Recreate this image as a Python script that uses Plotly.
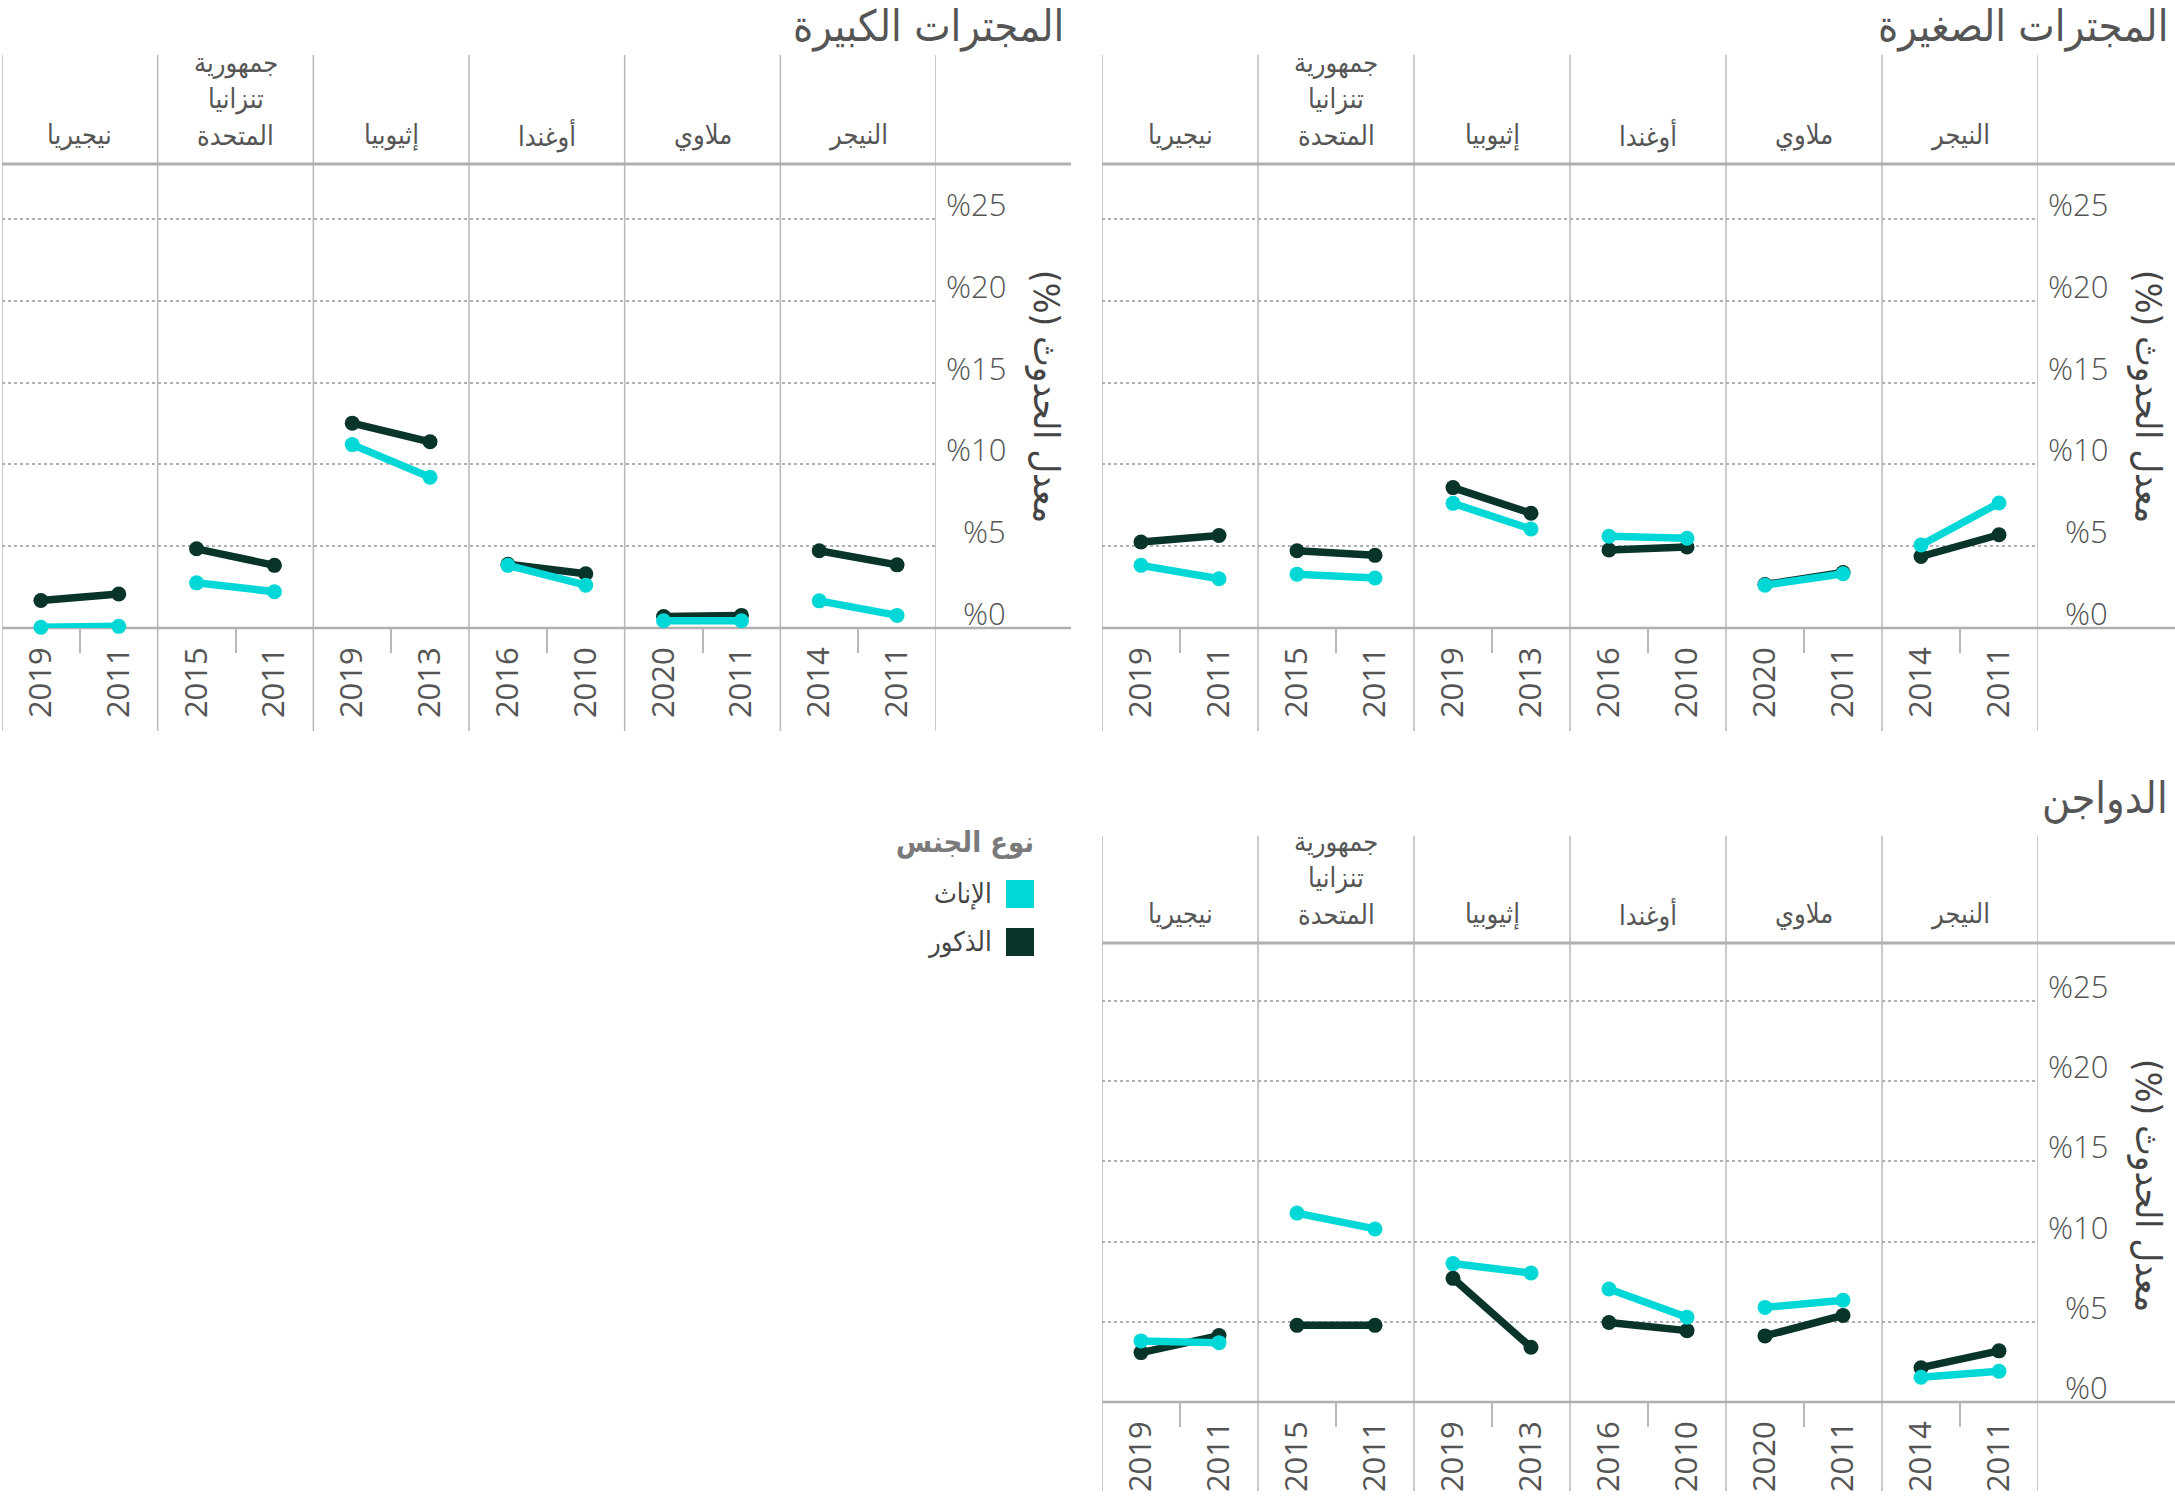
import plotly.graph_objects as go

# ---------------- data ----------------
countries = ["النيجر", "ملاوي", "أوغندا", "إثيوبيا", "جمهورية تنزانيا المتحدة", "نيجيريا"]
year_recent = [2014, 2020, 2016, 2019, 2015, 2019]
year_base = [2011, 2011, 2010, 2013, 2011, 2011]

panel_titles = ["المجترات الصغيرة", "المجترات الكبيرة", "الدواجن"]

small_female_recent = [5.07, 2.62, 5.61, 7.62, 3.29, 3.83]
small_female_base = [7.64, 3.32, 5.49, 6.05, 3.06, 3.01]
small_male_recent = [4.37, 2.66, 4.77, 8.58, 4.72, 5.26]
small_male_base = [5.70, 3.39, 4.95, 7.01, 4.44, 5.65]

large_female_recent = [1.66, 0.44, 3.83, 11.21, 2.76, 0.05]
large_female_base = [0.77, 0.44, 2.62, 9.21, 2.22, 0.10]
large_male_recent = [4.72, 0.70, 3.90, 12.52, 4.84, 1.68]
large_male_base = [3.86, 0.77, 3.32, 11.38, 3.83, 2.08]

poultry_female_recent = [1.54, 5.90, 7.05, 8.63, 11.78, 3.81]
poultry_female_base = [1.92, 6.34, 5.29, 8.04, 10.79, 3.70]
poultry_male_recent = [2.14, 4.12, 4.96, 7.71, 4.78, 3.08]
poultry_male_base = [3.19, 5.40, 4.45, 3.41, 4.78, 4.14]

y_ticks = [0, 5, 10, 15, 20, 25]
y_tick_labels = ["%0", "%5", "%10", "%15", "%20", "%25"]
y_title = "معدل الحدوث (%)"
legend_title = "نوع الجنس"
sex_names = ["الإناث", "الذكور"]

# ---------------- style ----------------
W, H = 2175, 1504
FEMALE = "#00d8d8"
MALE = "#083429"
AR_FONT = "DejaVu Sans Condensed, DejaVu Sans, sans-serif"
NUM_FONT = "Open Sans, DejaVu Sans, sans-serif"
TXT = "#555555"
LINE_C = "#b8b8b8"
RLE, PDF = "\u202b", "\u202c"


def fx(x):
    return x / W


def fy(y):
    return 1 - y / H


panels = [
    dict(title=panel_titles[0], fr=small_female_recent, fb=small_female_base,
         mr=small_male_recent, mb=small_male_base,
         left=1102, right=2038, top=55, header=164, base=628, bottom=731,
         edge=2175, title_y=0, ymax=28.36, ytitle_y=396),
    dict(title=panel_titles[1], fr=large_female_recent, fb=large_female_base,
         mr=large_male_recent, mb=large_male_base,
         left=2, right=936, top=55, header=164, base=628, bottom=731,
         edge=1071, title_y=0, ymax=28.36, ytitle_y=396),
    dict(title=panel_titles[2], fr=poultry_female_recent, fb=poultry_female_base,
         mr=poultry_male_recent, mb=poultry_male_base,
         left=1102, right=2038, top=836, header=943, base=1402, bottom=1491,
         edge=2175, title_y=772, ymax=28.62, ytitle_y=1185),
]

fig = go.Figure()
shapes = []
annotations = []
n = len(countries)

for k, p in enumerate(panels):
    sfx = "" if k == 0 else str(k + 1)
    xa, ya = "x" + sfx, "y" + sfx

    # traces: male first, female on top
    for rec, bas, col in ((p["mr"], p["mb"], MALE), (p["fr"], p["fb"], FEMALE)):
        xs, ys = [], []
        for i in range(n):
            xs += [i + 0.75, i + 0.25, None]
            ys += [rec[i], bas[i], None]
        fig.add_trace(go.Scatter(
            x=xs, y=ys, mode="lines+markers", xaxis=xa, yaxis=ya,
            line=dict(color=col, width=7.5), marker=dict(color=col, size=15),
            showlegend=False, hoverinfo="skip", connectgaps=False,
            cliponaxis=False))

    tickvals, ticktext = [], []
    for i in range(n):
        tickvals += [i + 0.75, i + 0.25]
        ticktext += [str(year_recent[i]), str(year_base[i])]

    fig.layout["xaxis" + sfx] = dict(
        domain=[fx(p["left"]), fx(p["right"])], range=[n, 0], anchor=ya,
        tickmode="array", tickvals=tickvals, ticktext=ticktext, tickangle=-90,
        ticks="", showgrid=False, zeroline=False, showline=False,
        tickfont=dict(family=NUM_FONT, size=31, color=TXT),
        ticklabelstandoff=12,
        minor=dict(tickvals=[i + 0.5 for i in range(n)], ticks="outside",
                   ticklen=24, tickwidth=1.5, tickcolor=LINE_C, showgrid=False),
    )
    fig.layout["yaxis" + sfx] = dict(
        domain=[fy(p["base"]), fy(p["header"])], range=[0, p["ymax"]], anchor=xa,
        tickmode="array", tickvals=y_ticks, showticklabels=False, ticks="",
        showgrid=True, gridcolor="#b0b0b0", griddash="dot", gridwidth=1.5,
        zeroline=False, showline=False, side="right",
    )

    # vertical column dividers
    for i in range(n + 1):
        shapes.append(dict(type="line", xref=xa, yref="paper", x0=i, x1=i,
                           y0=fy(p["bottom"]), y1=fy(p["top"]),
                           line=dict(color=LINE_C, width=1.5), layer="between"))
    # header separator & baseline
    shapes.append(dict(type="line", xref="paper", yref="paper",
                       x0=fx(p["left"]), x1=fx(p["edge"]),
                       y0=fy(p["header"]), y1=fy(p["header"]),
                       line=dict(color="#b0b0b0", width=3), layer="between"))
    shapes.append(dict(type="line", xref="paper", yref="paper",
                       x0=fx(p["left"]), x1=fx(p["edge"]),
                       y0=fy(p["base"]), y1=fy(p["base"]),
                       line=dict(color="#b0b0b0", width=2.5), layer="between"))

    # panel title (box top at given y)
    annotations.append(dict(text=p["title"], xref="paper", yref="paper",
                            x=fx(p["edge"] - 6), y=fy(p["title_y"]),
                            xanchor="right", yanchor="top", showarrow=False,
                            borderpad=0,
                            font=dict(family=AR_FONT, size=43, color=TXT)))
    # country headers
    for i, name in enumerate(countries):
        lines = name.split(" ")
        for j, ln in enumerate(reversed(lines)):
            annotations.append(dict(text=ln, xref=xa, yref="paper", x=i + 0.5,
                                    y=fy(p["header"] - 29 - 36 * j),
                                    xanchor="center", yanchor="middle",
                                    showarrow=False,
                                    font=dict(family=AR_FONT, size=27, color=TXT)))
    # y tick labels
    for v, lab in zip(y_ticks, y_tick_labels):
        annotations.append(dict(text=lab, xref="paper", yref=ya,
                                x=fx(p["right"] + 72), y=v,
                                xanchor="right", yanchor="bottom", showarrow=False,
                                yshift=-8,
                                font=dict(family=NUM_FONT, size=31, color=TXT,
                                          weight=300)))
    # y title (rendered as right-to-left run)
    annotations.append(dict(text=RLE + y_title + PDF, xref="paper", yref="paper",
                            x=fx(p["right"] + 110), y=fy(p["ytitle_y"]),
                            xanchor="center", yanchor="middle", textangle=90,
                            showarrow=False,
                            font=dict(family=AR_FONT, size=36, color="#444444")))

# legend (manual, RTL)
annotations.append(dict(text="<b>" + legend_title + "</b>", xref="paper", yref="paper",
                        x=fx(1036), y=fy(842), xanchor="right", yanchor="middle",
                        showarrow=False, font=dict(family=AR_FONT, size=29, color="#7a7a7a")))
for j, (nm, col) in enumerate(zip(sex_names, [FEMALE, MALE])):
    yc = 894 + 48 * j
    shapes.append(dict(type="rect", xref="paper", yref="paper",
                       x0=fx(1006), x1=fx(1034), y0=fy(yc + 14), y1=fy(yc - 14),
                       fillcolor=col, line=dict(width=0)))
    annotations.append(dict(text=nm, xref="paper", yref="paper",
                            x=fx(994), y=fy(yc), xanchor="right", yanchor="middle",
                            showarrow=False,
                            font=dict(family=AR_FONT, size=27, color="#444444")))

fig.update_layout(
    width=W, height=H, margin=dict(l=0, r=0, t=0, b=0),
    paper_bgcolor="white", plot_bgcolor="rgba(0,0,0,0)",
    shapes=shapes, annotations=annotations, showlegend=False,
)

# remove the page's default body margin so the figure fills the window exactly
fig.write_html("out.html", config={"displayModeBar": False},
               post_script="document.body.style.margin='0';")
